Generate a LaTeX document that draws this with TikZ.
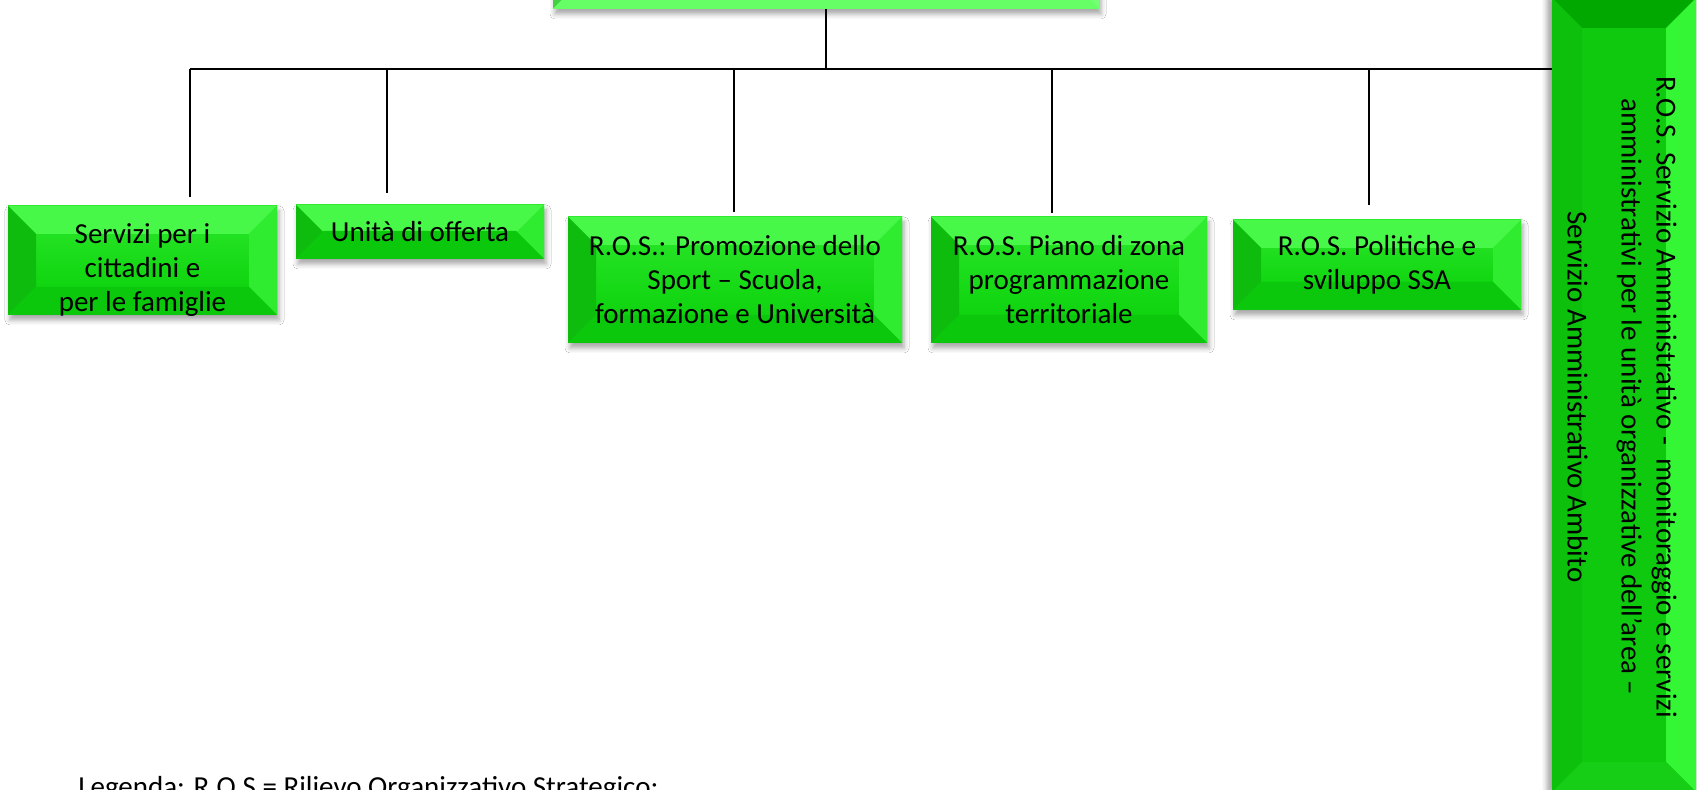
\documentclass[tikz,border=0pt]{standalone}
\usepackage{fontspec}
\setmainfont{Carlito}
\usetikzlibrary{shadows.blur}
\definecolor{fTop}{HTML}{2CE82C}
\definecolor{fBot}{HTML}{06CE06}
\definecolor{bT}{HTML}{48F848}
\definecolor{bL}{HTML}{0EBC0E}
\definecolor{bR}{HTML}{30EC30}
\definecolor{bB}{HTML}{0CC80C}
\definecolor{rFace}{HTML}{0FC90F}
\definecolor{rT}{HTML}{00A800}
\definecolor{rL}{HTML}{0CC00C}
\definecolor{rR}{HTML}{34F634}
\definecolor{rB}{HTML}{16CE16}
\definecolor{tFace}{HTML}{66FF66}
\definecolor{tL}{HTML}{44D044}
\definecolor{tR}{HTML}{74FF74}
\newcommand\bxfont{\fontsize{14.5}{17}\selectfont}
\newcommand\bevelpic[5]{%
 \fill[#2] (path picture bounding box.north west) -- (path picture bounding box.north east) -- ([xshift=-#1,yshift=-#1]path picture bounding box.north east) -- ([xshift=#1,yshift=-#1]path picture bounding box.north west) -- cycle;
 \fill[#3] (path picture bounding box.north west) -- ([xshift=#1,yshift=-#1]path picture bounding box.north west) -- ([xshift=#1,yshift=#1]path picture bounding box.south west) -- (path picture bounding box.south west) -- cycle;
 \fill[#4] (path picture bounding box.north east) -- ([xshift=-#1,yshift=-#1]path picture bounding box.north east) -- ([xshift=-#1,yshift=#1]path picture bounding box.south east) -- (path picture bounding box.south east) -- cycle;
 \fill[#5] (path picture bounding box.south west) -- ([xshift=#1,yshift=#1]path picture bounding box.south west) -- ([xshift=-#1,yshift=#1]path picture bounding box.south east) -- (path picture bounding box.south east) -- cycle;
}
\tikzset{
  bevbox/.style={draw=none, top color=fTop, bottom color=fBot, inner sep=0pt,
    align=center, font=\bxfont,
    blur shadow={shadow xshift=1pt, shadow yshift=-2.5pt, shadow blur radius=2.5pt, shadow opacity=35},
    path picture={\bevelpic{14pt}{bT}{bL}{bR}{bB}}},
  sidebox/.style={draw=none, fill=rFace, inner sep=0pt,
    blur shadow={shadow xshift=-2.5pt, shadow yshift=0pt, shadow blur radius=2.5pt, shadow opacity=35},
    path picture={\bevelpic{15pt}{rT}{rL}{rR}{rB}}},
  headbox/.style={draw=none, fill=tFace, inner sep=0pt,
    blur shadow={shadow xshift=1pt, shadow yshift=-2.5pt, shadow blur radius=2.5pt, shadow opacity=35},
    path picture={\bevelpic{13pt}{tFace}{tL}{tR}{tFace}}},
  boxtext/.style={align=center, inner sep=0pt, font=\bxfont},
  link/.style={draw=black, line width=1pt},
}
\begin{document}
\begin{tikzpicture}[x=0.5pt, y=-0.5pt]
\useasboundingbox (0,0) rectangle (1698,790);
\fill[white] (0,0) rectangle (1698,790);

% head box (mostly above the picture)
\node[headbox, minimum width=273pt, minimum height=34.5pt] (head) at (826,-25.5) {};

% child boxes
\node[bevbox, minimum width=134.5pt, minimum height=54.5pt] (b1) at (142.5,260.5) {};
\node[boxtext] (b1t) at ([yshift=-5pt]b1.center)
  {Servizi per i\\cittadini e\\per le famiglie};
\node[bevbox, minimum width=124pt, minimum height=27pt] (b2) at (420,232)
  {Unità di offerta};
\node[bevbox, minimum width=167pt, minimum height=63pt] (b3) at (735,280)
  {R.O.S.: Promozione dello\\Sport – Scuola,\\formazione e Università};
\node[bevbox, minimum width=138pt, minimum height=63pt] (b4) at (1069,280)
  {R.O.S. Piano di zona\\programmazione\\territoriale};
\node[bevbox, minimum width=144pt, minimum height=45pt] (b5) at (1377,265)
  {R.O.S. Politiche e\\sviluppo SSA};

% side box
\node[sidebox, minimum width=72pt, minimum height=397pt] (side) at (1624,395) {};
\node[rotate=-90, align=center, inner sep=0pt, font=\fontsize{14.5}{17.5}\selectfont] (sidetext) at (1622,397)
  {R.O.S. Servizio Amministrativo -~ monitoraggio e servizi\\amministrativi per le unità organizzative dell’area –\\[9.5pt]Servizio Amministrativo Ambito};

% connectors
\coordinate (busL) at (190,69);
\coordinate (d1) at (190,197);
\coordinate (d2) at (387,193);
\coordinate (d3) at (734,212);
\coordinate (d4) at (1052,213);
\coordinate (d5) at (1369,205);
\draw[link] (head.south) -- (head.south |- busL);
\draw[link] (busL) -- (side.west |- busL);
\draw[link] (d1 |- busL) -- (d1);
\draw[link] (d2 |- busL) -- (d2);
\draw[link] (d3 |- busL) -- (d3);
\draw[link] (d4 |- busL) -- (d4);
\draw[link] (d5 |- busL) -- (d5);

% legend (cut by the lower edge, as in the reference)
\node[anchor=base west, inner sep=0pt, font=\bxfont] (legend) at (78,796)
  {Legenda: R.O.S = Rilievo Organizzativo Strategico;};
\end{tikzpicture}
\end{document}
